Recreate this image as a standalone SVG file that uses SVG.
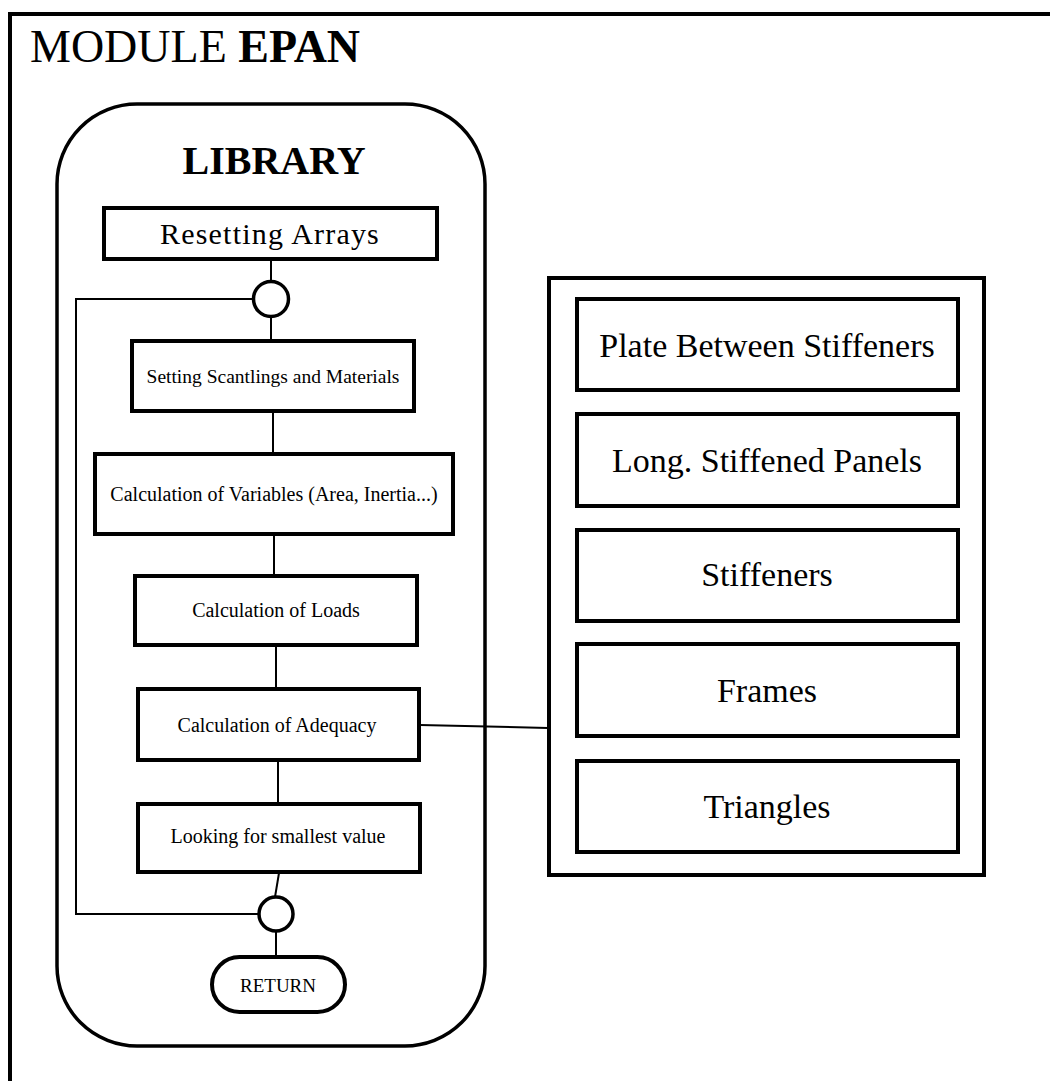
<svg xmlns="http://www.w3.org/2000/svg" width="1050" height="1081" viewBox="0 0 1050 1081">
<style>
.box{fill:#fff;stroke:#000;stroke-width:4}
.thin{fill:none;stroke:#000;stroke-width:2}
.t{font-family:"Liberation Serif","Times New Roman",serif;fill:#000;text-anchor:middle}
.s{font-size:20px}
.b{font-size:34px}
</style>
<rect width="1050" height="1081" fill="#fff"/>
<g id="module-frame">
<path d="M10 1081 V14 H1050" fill="none" stroke="#000" stroke-width="4"/>
<text x="30" y="62" font-family="Liberation Serif, serif" font-size="46">MODULE <tspan font-weight="bold">EPAN</tspan></text>
</g>
<g id="library">
<rect x="57" y="104" width="428" height="942" rx="80" ry="80" fill="none" stroke="#000" stroke-width="3.5"/>
<text class="t" x="274" y="174" font-size="40" font-weight="bold">LIBRARY</text>
</g>
<g id="connectors" class="thin">
<line x1="271" y1="259" x2="271" y2="281"/>
<line x1="271" y1="316" x2="271" y2="340"/>
<polyline points="253,299 76,299 76,914 258,914"/>
<line x1="273" y1="412" x2="273" y2="453"/>
<line x1="274" y1="535" x2="274" y2="575"/>
<line x1="276" y1="646" x2="276" y2="688"/>
<line x1="278" y1="761" x2="278" y2="803"/>
<line x1="279" y1="873" x2="275" y2="897"/>
<line x1="276" y1="931" x2="276" y2="956"/>
<line x1="420" y1="725" x2="548" y2="728"/>
</g>
<g id="resetting-arrays">
<rect class="box" x="104" y="208" width="333" height="51"/>
<text class="t" x="270" y="244" font-size="30" letter-spacing="1.2">Resetting Arrays</text>
</g>
<g id="junction-top">
<circle cx="271" cy="299" r="17.5" fill="#fff" stroke="#000" stroke-width="3.5"/>
</g>
<g id="setting-scantlings">
<rect class="box" x="132" y="341" width="282" height="70"/>
<text class="t" x="273" y="383" font-size="19.5">Setting Scantlings and Materials</text>
</g>
<g id="calc-variables">
<rect class="box" x="95" y="454" width="358" height="80"/>
<text class="t s" x="274" y="501">Calculation of Variables (Area, Inertia...)</text>
</g>
<g id="calc-loads">
<rect class="box" x="135" y="576" width="282" height="69"/>
<text class="t s" x="276" y="617">Calculation of Loads</text>
</g>
<g id="calc-adequacy">
<rect class="box" x="138" y="689" width="281" height="71"/>
<text class="t s" x="277" y="732">Calculation of Adequacy</text>
</g>
<g id="looking-smallest">
<rect class="box" x="138" y="804" width="282" height="68"/>
<text class="t s" x="278" y="843">Looking for smallest value</text>
</g>
<g id="junction-bottom">
<circle cx="276" cy="914" r="17" fill="#fff" stroke="#000" stroke-width="3.5"/>
</g>
<g id="return">
<rect class="box" x="212" y="957" width="133" height="55" rx="27.5" ry="27.5"/>
<text class="t" x="278" y="992" font-size="19">RETURN</text>
</g>
<g id="elements-panel">
<rect class="box" x="549" y="278" width="435" height="597"/>
</g>
<g id="plate-between-stiffeners">
<rect class="box" x="577" y="299" width="381" height="91"/>
<text class="t b" x="767" y="357">Plate Between Stiffeners</text>
</g>
<g id="long-stiffened-panels">
<rect class="box" x="577" y="414" width="381" height="92"/>
<text class="t b" x="767" y="472">Long. Stiffened Panels</text>
</g>
<g id="stiffeners">
<rect class="box" x="577" y="530" width="381" height="91"/>
<text class="t b" x="767" y="586">Stiffeners</text>
</g>
<g id="frames">
<rect class="box" x="577" y="644" width="381" height="92"/>
<text class="t b" x="767" y="702">Frames</text>
</g>
<g id="triangles">
<rect class="box" x="577" y="761" width="381" height="91"/>
<text class="t b" x="767" y="818">Triangles</text>
</g>
</svg>
